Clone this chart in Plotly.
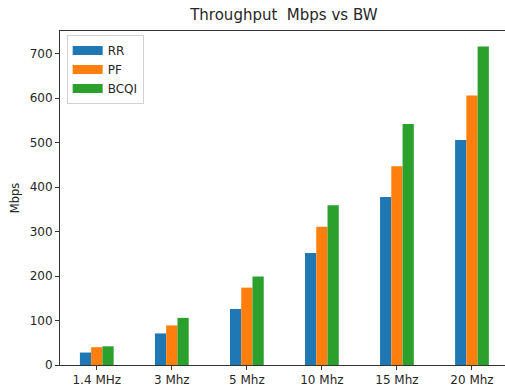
import plotly.graph_objects as go

categories = ["1.4 MHz", "3 Mhz", "5 Mhz", "10 Mhz", "15 Mhz", "20 Mhz"]
rr = [28, 71, 126, 252, 378, 506]
pf = [40, 89, 174, 311, 447, 606]
bcqi = [42, 106, 199, 359, 542, 716]
series_names = ["RR", "PF", "BCQI"]
colors = ["#1f77b4", "#ff7f0e", "#2ca02c"]

fig = go.Figure()
for name, vals, col in zip(series_names, [rr, pf, bcqi], colors):
    fig.add_trace(go.Bar(x=list(range(len(categories))), y=vals, name=name,
                         marker=dict(color=col, line=dict(width=0)),
                         showlegend=False))
# legend proxies (wide rectangle patches like matplotlib)
for name, col in zip(series_names, colors):
    fig.add_trace(go.Scatter(x=[None], y=[None], mode="lines", name=name,
                             line=dict(color=col, width=9), showlegend=True))

font = dict(family="DejaVu Sans", size=12, color="#262626")
fig.update_layout(
    width=505, height=387,
    margin=dict(l=60, r=0, t=31, b=22),
    paper_bgcolor="white", plot_bgcolor="white",
    barmode="group", bargap=0.55, bargroupgap=0,
    font=font,
    title=dict(text="Throughput  Mbps vs BW", font=dict(family="DejaVu Sans", size=15, color="#262626"),
               x=0.503, xref="paper", xanchor="center",
               y=1 - 15 / 387, yref="container", yanchor="middle"),
    legend=dict(x=0.015, y=0.988, xanchor="left", yanchor="top",
                bgcolor="white", bordercolor="#d0d0d0", borderwidth=1,
                font=dict(family="DejaVu Sans", size=12, color="#262626"),
                itemwidth=30, tracegroupgap=0),
    xaxis=dict(range=[-0.49, 5.44], tickmode="array",
               tickvals=list(range(len(categories))), ticktext=categories,
               showgrid=False, zeroline=False, showline=True, linecolor="#333",
               linewidth=1, mirror=True, ticks="outside", ticklen=4,
               tickcolor="#333", tickfont=font),
    yaxis=dict(range=[0, 751], tickmode="array", tickvals=list(range(0, 701, 100)),
               showgrid=False, zeroline=False, showline=True, linecolor="#333",
               linewidth=1, mirror=False, ticks="outside", ticklen=4,
               tickcolor="#333", tickfont=font,
               title=dict(text="Mbps", font=dict(family="DejaVu Sans", size=11.5, color="#262626"),
                          standoff=7)),
)

fig.write_html("out.html")
